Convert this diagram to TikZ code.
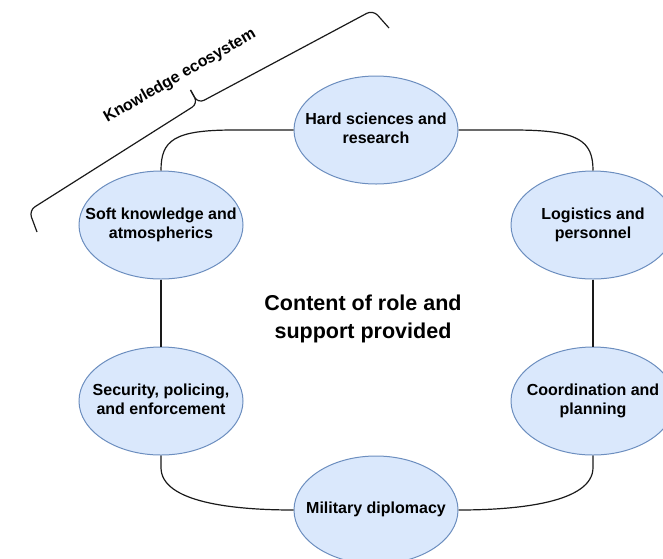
\documentclass[tikz,border=0pt]{standalone}
\usepackage{fontspec}
\setmainfont{Liberation Sans}
\usetikzlibrary{shapes.geometric}
\definecolor{ellfill}{HTML}{DAE8FC}
\definecolor{elldraw}{HTML}{6C8EBF}
\definecolor{linecol}{HTML}{1A1A1A}
\newcommand{\elltext}[1]{\makebox[0pt][c]{\raisebox{-2pt}{\begin{tabular}{@{}c@{}}#1\end{tabular}}}}
\begin{document}
\begin{tikzpicture}[x=1pt,y=-1pt,
  topic/.style={ellipse, draw=elldraw, fill=ellfill, line width=1pt,
    minimum width=164pt, minimum height=108pt, inner sep=0pt,
    font=\fontsize{16}{19.5}\selectfont\bfseries},
  link/.style={draw=linecol, line width=1.2pt},
  bracestyle/.style={draw=linecol, line width=1.2pt, rounded corners=7pt}]
\useasboundingbox (0,0) rectangle (663,558);
\clip (0,0) rectangle (663,558);

\node[topic] (hard) at (376,130) {\elltext{Hard sciences and\\research}};
\node[topic] (soft) at (161,225) {\elltext{Soft knowledge and\\atmospherics}};
\node[topic] (logi) at (593,225) {\elltext{Logistics and\\personnel}};
\node[topic] (secu) at (161,401) {\elltext{Security, policing,\\and enforcement}};
\node[topic] (coord) at (593,401) {\elltext{Coordination and\\planning}};
\node[topic] (mil) at (376,510) {\elltext{Military diplomacy}};

\draw[link] (hard.west) -- ++(-60,0) .. controls +(-60,0) and +(0,-30) .. (soft.north);
\draw[link] (hard.east) -- ++(55,0) .. controls +(65,0) and +(0,-30) .. (logi.north);
\draw[link] (soft.south) -- (secu.north);
\draw[link] (logi.south) -- (coord.north);
\draw[link] (secu.south) -- ++(0,12) .. controls +(0,35) and +(-60,0) .. (mil.west);
\draw[link] (coord.south) -- ++(0,12) .. controls +(0,35) and +(60,0) .. (mil.east);

% title
\node[font=\fontsize{21.5}{28}\selectfont\bfseries, align=center] (title) at (363,319) {Content of role and\\support provided};

% brace
\coordinate (ba) at (37,232);
\coordinate (b1) at (29,210.5);
\coordinate (bj) at (198,103.5);
\coordinate (bt) at (190.5,90);
\coordinate (b4) at (373,10);
\coordinate (bb) at (389,28);
\draw[bracestyle] (ba) -- (b1) -- (bj) -- (bt);
\draw[bracestyle] (bt) -- (bj) -- (b4) -- (bb);
\node[rotate=30, font=\fontsize{16}{19}\selectfont\bfseries, inner sep=1pt] (klabel) at (180,76) {Knowledge ecosystem};
\end{tikzpicture}
\end{document}
